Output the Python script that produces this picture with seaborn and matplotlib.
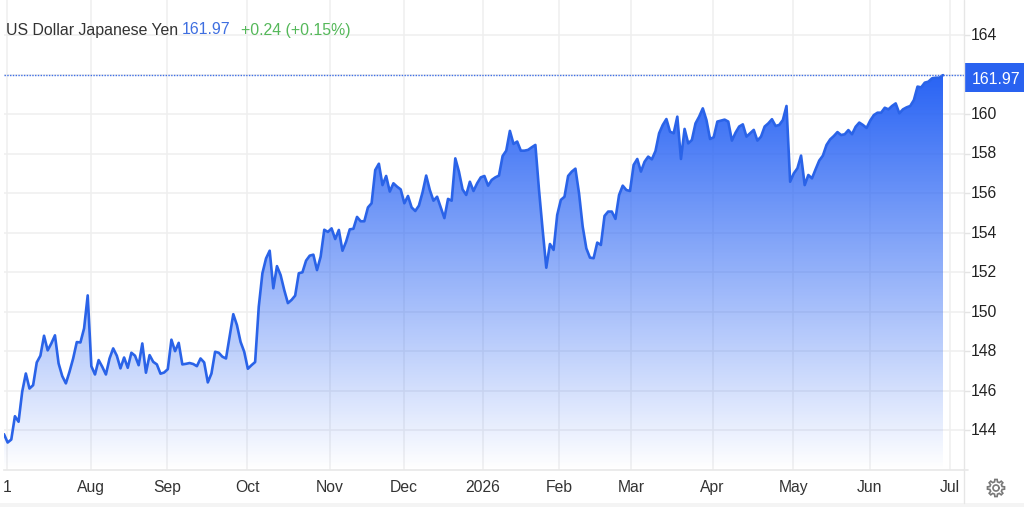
import numpy as np
import pandas as pd
import matplotlib
matplotlib.use("Agg")
import matplotlib.pyplot as plt
from matplotlib.lines import Line2D
from matplotlib.patches import Rectangle, Polygon, Circle
from matplotlib.transforms import ScaledTranslation
import seaborn as sns

rates_2025_q3 = [
    143.81,143.39,143.54,144.72,144.44,145.96,146.88,146.12,146.29,147.44,
    147.78,148.79,148.05,148.40,148.81,147.39,146.75,146.38,146.97,147.64,
    148.47,148.45,149.16,150.83,147.25,146.83,147.56,147.22,146.83,147.64,
    148.15,147.78,147.14,147.69,147.17,147.93,147.78,147.30,148.40,146.92,
    147.81,147.47,147.34,146.87,146.93,147.10,148.59,148.01,148.43,147.34,
    147.37,147.41,147.36,147.25,147.64,147.44,146.43,146.88,147.98,147.93,
    147.73,147.64,148.77,149.88,149.33,148.48,147.98,147.12,147.30,147.46]
rates_2025_q4 = [
    150.26,151.95,152.70,153.09,151.19,152.31,151.86,151.10,150.44,150.60,
    150.82,151.95,152.00,152.59,152.84,152.89,152.11,152.79,154.15,154.04,
    154.22,153.68,154.14,153.09,153.55,154.17,154.20,154.80,154.58,154.58,
    155.28,155.49,157.17,157.49,156.41,156.87,156.08,156.50,156.33,156.19,
    155.49,155.86,155.28,155.10,155.37,156.04,156.89,156.16,155.62,155.82,
    155.28,154.74,155.71,155.62,157.76,157.09,156.19,155.91,156.58,156.11,
    156.50,156.80,156.87,156.38,156.67,156.80,156.89,157.88,158.15,159.15,
    158.49,158.61,158.15,158.15,158.19,158.32,158.44]
rates_2026_h1a = [
    156.16,154.14,152.23,153.43,153.13,154.90,155.66,155.82,156.87,157.09,
    157.24,155.99,154.31,153.21,152.74,152.71,153.50,153.38,154.85,155.07,
    155.07,154.70,155.91,156.38,156.16,156.11,157.43,157.73,157.09,157.59,
    157.85,157.71,158.13,159.03,159.45,159.75,159.11,159.03,159.87,157.73,
    159.25,158.52,158.69,159.53,159.87,160.29,159.70,158.74,158.83,159.62,
    159.67,159.72,159.62,158.66,159.06,159.37,159.48,158.86,159.03,159.20,
    158.66,158.86,159.37,159.53,159.74,159.40,159.45,159.70,160.41,156.58,
    157.00,157.26,157.90,156.41,156.92,156.75,157.21,157.65,157.90,158.44,158.72]
rates_2026_h1b = [
    158.89,159.09,158.94,158.98,159.19,158.98,159.36,159.57,159.45,159.30,
    159.67,159.95,160.07,160.07,160.32,160.24,160.41,160.54,160.04,160.24,
    160.34,160.41,160.71,161.39,161.35,161.59,161.64,161.81,161.84,161.84,161.97]
rates = rates_2025_q3 + rates_2025_q4 + rates_2026_h1a + rates_2026_h1b

month_labels = ["1","Aug","Sep","Oct","Nov","Dec","2026","Feb","Mar","Apr","May","Jun","Jul"]
month_sessions = [0.75,23.9,44.8,66.9,89.5,109.9,131.5,152.5,172.4,194.7,216.9,237.9,259.9]
y_ticks = [144,146,148,150,152,154,156,158,160,162,164]
y_labels = ["144","146","148","150","152","154","156","158","160","","164"]

title = "US Dollar Japanese Yen"
last_price = "161.97"
change = "+0.24 (+0.15%)"

sns.set_theme(style="white")
plt.rcParams["font.family"] = ["Liberation Sans", "DejaVu Sans"]

W, H = 1024, 507
fig = plt.figure(figsize=(W/100, H/100), dpi=100, facecolor="white")
ax = fig.add_axes([4/W, (H-470)/H, 960/W, 470/H])

df = pd.DataFrame({"session": np.arange(len(rates)), "rate": rates})
n = len(df)
BLUE = "#2a63e8"

# gradient under the line
poly = ax.fill_between(df["session"], df["rate"], 142, facecolor="none", edgecolor="none")
rgba = np.zeros((256, 1, 4))
rgba[..., 0], rgba[..., 1], rgba[..., 2] = 0.16, 0.39, 0.96
rgba[..., 3] = np.linspace(1.0, 0.0, 256)[:, None]
im = ax.imshow(rgba, extent=[0, n-1, 142, df["rate"].max()], origin="upper",
               aspect="auto", zorder=2, interpolation="bilinear")
im.set_clip_path(poly.get_paths()[0], transform=ax.transData)

sns.lineplot(data=df, x="session", y="rate", ax=ax, color=BLUE, linewidth=1.9, zorder=3, errorbar=None)

ax.set_xlim(0, 960 / (939 / (n-1)))
ax.set_ylim(142.0, 165.77)
ax.axhline(df["rate"].iloc[-1], color="#3f6fe6", lw=1, ls=(0, (1, 1)), zorder=4)

ax.set_xticks(month_sessions, month_labels)
ax.set_yticks(y_ticks, y_labels)
ax.yaxis.tick_right()
ax.set_xlabel(""); ax.set_ylabel("")
ax.grid(True, color="#efefef", lw=1.1)
ax.set_axisbelow(True)
ax.tick_params(axis="x", length=0, pad=7.5, labelsize=11.3, labelcolor="#333333")
ax.tick_params(axis="y", length=4, width=1, color="#e4e4e4", pad=1.2, labelsize=11.3, labelcolor="#222222", right=True)
shift = ScaledTranslation(0, 1.2/100, fig.dpi_scale_trans)
for lab in ax.get_yticklabels():
    lab.set_transform(lab.get_transform() + shift)
for s in ["top", "left", "right"]:
    ax.spines[s].set_visible(False)
ax.spines["bottom"].set_color("#e8e8e8"); ax.spines["bottom"].set_linewidth(1.2)

# right axis line reaching down to the bottom band, and the band
fig.add_artist(Line2D([964/W, 964/W], [4/H, 1], color="#e6e6e6", lw=1))
fig.add_artist(Line2D([964/W, 968/W], [(H-470)/H]*2, color="#e8e8e8", lw=1.2))
fig.add_artist(Rectangle((0, 0), 1, 4/H, transform=fig.transFigure, facecolor="#f4f4f4", edgecolor="none"))

# header
def ftext(px, py, s, **kw):
    return fig.text(px/W, 1-py/H, s, va="center", **kw)
ftext(6, 30, title, color="#333333", fontsize=11.4)
ftext(182, 30, last_price, color="#3f6fe0", fontsize=11.4)
ftext(241, 30, change, color="#55b85a", fontsize=11.4)

# last price tag
fig.add_artist(Rectangle((964/W, 1-92/H), 60/W, 29/H, transform=fig.transFigure,
                         facecolor="#2962f0", edgecolor="none"))
ftext(971.5, 79, last_price, color="white", fontsize=11.4)

# settings icon: outlined cog
cx, cy, teeth = 996, 488, 8
ang, rad = [], []
for k in range(teeth):
    a0 = 2*np.pi*k/teeth
    w = 2*np.pi/teeth
    ang += [a0-0.30*w, a0-0.17*w, a0+0.17*w, a0+0.30*w]
    rad += [6.3, 8.6, 8.6, 6.3]
ang, rad = np.array(ang), np.array(rad)
gx = (cx + rad*np.cos(ang)) / W
gy = 1 - (cy + rad*np.sin(ang)) / H
fig.add_artist(Polygon(np.c_[gx, gy], closed=True, transform=fig.transFigure,
                       facecolor="none", edgecolor="#777777", lw=1.2))
t = np.linspace(0, 2*np.pi, 40)
fig.add_artist(Line2D((cx + 3*np.cos(t))/W, 1-(cy + 3*np.sin(t))/H, color="#777777", lw=1.2))

fig.savefig("out.png", dpi=100)
